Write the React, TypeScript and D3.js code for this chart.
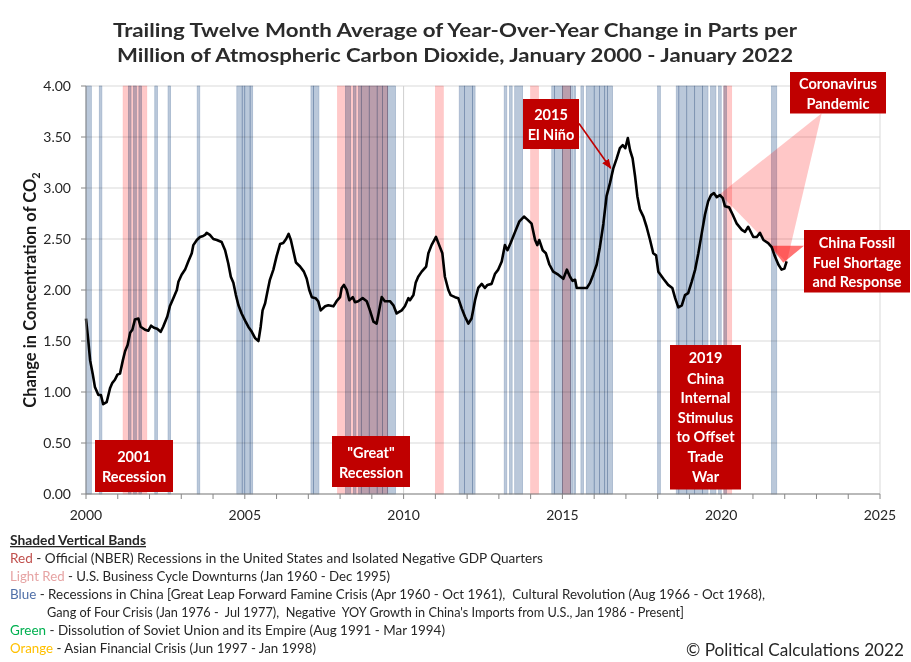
import * as d3 from 'd3'

// [year offset from 2000, ppm change]
const co2Series: [number, number][] = [
  [0.0, 1.72], [0.07, 1.51], [0.13, 1.31], [0.21, 1.18], [0.28, 1.05], [0.39, 0.97], [0.47, 0.97], [0.54, 0.88],
  [0.65, 0.9], [0.76, 1.04], [0.83, 1.09], [0.91, 1.12], [0.99, 1.17], [1.07, 1.18], [1.16, 1.31], [1.23, 1.4],
  [1.31, 1.46], [1.39, 1.58], [1.46, 1.61], [1.54, 1.71], [1.65, 1.72], [1.72, 1.64], [1.86, 1.61], [1.96, 1.6],
  [2.05, 1.65], [2.14, 1.63], [2.24, 1.62], [2.35, 1.59], [2.43, 1.64], [2.56, 1.74], [2.64, 1.84], [2.75, 1.92],
  [2.86, 2.0], [2.91, 2.08], [3.01, 2.15], [3.12, 2.2], [3.22, 2.28], [3.33, 2.36], [3.38, 2.44], [3.49, 2.49],
  [3.59, 2.52], [3.69, 2.53], [3.75, 2.54], [3.8, 2.56], [3.9, 2.54], [4.01, 2.5], [4.12, 2.49], [4.27, 2.47],
  [4.38, 2.39], [4.48, 2.26], [4.56, 2.13], [4.64, 2.07], [4.72, 1.95], [4.8, 1.85], [4.9, 1.77], [5.01, 1.7],
  [5.11, 1.64], [5.22, 1.59], [5.32, 1.53], [5.43, 1.5], [5.5, 1.64], [5.56, 1.8], [5.64, 1.87], [5.71, 1.98],
  [5.79, 2.1], [5.9, 2.2], [6.0, 2.33], [6.11, 2.45], [6.21, 2.46], [6.3, 2.5], [6.38, 2.55], [6.45, 2.49],
  [6.53, 2.38], [6.61, 2.27], [6.74, 2.23], [6.86, 2.18], [6.95, 2.11], [7.03, 2.0], [7.11, 1.93], [7.23, 1.92],
  [7.31, 1.89], [7.39, 1.8], [7.53, 1.84], [7.63, 1.85], [7.79, 1.84], [7.89, 1.89], [8.0, 1.93], [8.05, 2.02],
  [8.12, 2.05], [8.21, 2.0], [8.29, 1.9], [8.4, 1.93], [8.47, 1.88], [8.57, 1.89], [8.71, 1.92], [8.84, 1.89],
  [8.94, 1.8], [9.05, 1.69], [9.15, 1.67], [9.23, 1.8], [9.31, 1.93], [9.41, 1.89], [9.57, 1.89], [9.68, 1.85],
  [9.78, 1.77], [9.94, 1.8], [10.04, 1.84], [10.15, 1.92], [10.2, 1.9], [10.31, 1.95], [10.38, 2.07], [10.46, 2.13],
  [10.57, 2.18], [10.71, 2.23], [10.78, 2.36], [10.88, 2.44], [11.02, 2.52], [11.12, 2.44], [11.22, 2.36], [11.3, 2.13],
  [11.41, 2.0], [11.48, 1.95], [11.62, 1.93], [11.72, 1.92], [11.83, 1.82], [11.93, 1.74], [12.04, 1.67], [12.14, 1.72],
  [12.25, 1.9], [12.35, 2.02], [12.46, 2.06], [12.56, 2.02], [12.64, 2.05], [12.77, 2.06], [12.88, 2.16], [12.98, 2.2],
  [13.09, 2.28], [13.19, 2.44], [13.27, 2.39], [13.37, 2.46], [13.51, 2.57], [13.64, 2.67], [13.79, 2.72], [13.9, 2.69],
  [14.03, 2.65], [14.14, 2.49], [14.21, 2.44], [14.27, 2.49], [14.38, 2.39], [14.48, 2.36], [14.59, 2.25], [14.71, 2.18],
  [14.87, 2.15], [15.03, 2.11], [15.14, 2.2], [15.24, 2.13], [15.32, 2.09], [15.4, 2.1], [15.45, 2.02], [15.61, 2.02],
  [15.77, 2.02], [15.87, 2.07], [15.97, 2.15], [16.08, 2.25], [16.18, 2.42], [16.29, 2.65], [16.39, 2.92], [16.5, 3.05],
  [16.6, 3.19], [16.71, 3.29], [16.81, 3.39], [16.9, 3.42], [16.98, 3.39], [17.06, 3.49], [17.13, 3.37], [17.21, 3.29],
  [17.29, 3.11], [17.36, 2.92], [17.44, 2.79], [17.55, 2.72], [17.65, 2.62], [17.76, 2.49], [17.86, 2.36], [17.95, 2.34],
  [18.02, 2.18], [18.18, 2.11], [18.33, 2.05], [18.46, 2.02], [18.55, 1.92], [18.65, 1.83], [18.76, 1.85], [18.86, 1.95],
  [18.96, 1.97], [19.07, 2.08], [19.18, 2.2], [19.28, 2.36], [19.39, 2.56], [19.49, 2.74], [19.59, 2.87], [19.68, 2.93],
  [19.77, 2.95], [19.86, 2.91], [19.96, 2.93], [20.05, 2.9], [20.12, 2.82], [20.25, 2.81], [20.36, 2.74], [20.49, 2.65],
  [20.65, 2.59], [20.75, 2.57], [20.85, 2.62], [21.01, 2.52], [21.12, 2.52], [21.22, 2.56], [21.33, 2.49], [21.48, 2.46],
  [21.59, 2.42], [21.69, 2.33], [21.8, 2.25], [21.9, 2.2], [21.99, 2.21], [22.06, 2.28],
]

// shaded bands as [start month, end month) counted from Jan 2000
const chinaBands: [number, number][] = [
  [0, 2], [5, 6], [16, 17], [18, 19], [20, 21], [26, 27], [31, 32], [42, 43],
  [57, 59], [59, 60], [60, 62], [62, 63],
  [85, 86], [86, 88],
  [98, 100], [101, 102], [103, 104], [104, 107], [107, 110], [110, 112], [112, 114], [114, 117],
  [141, 143], [143, 146], [146, 147],
  [158, 159], [160, 161], [162, 165],
  [176, 177], [177, 180], [180, 183], [183, 184], [184.4, 185], [187, 188],
  [189, 192], [192, 194], [194, 196], [196, 197], [197, 199],
  [216, 217],
  [223, 224], [224, 227], [227, 230], [230, 233], [233, 235],
  [236, 238], [239, 240], [241, 242],
  [259, 261],
]
const usRecessionBands: [number, number][] = [
  [14, 23], [95, 114], [132, 135], [168, 171], [180, 183], [241, 244],
]

const yTicks = [0, 0.5, 1, 1.5, 2, 2.5, 3, 3.5, 4]
const xTicks = [2000, 2005, 2010, 2015, 2020, 2025]
const xMinorTicks = d3.range(2000, 2026)

const titleLines = [
  'Trailing Twelve Month Average of Year-Over-Year Change in Parts per',
  'Million of Atmospheric Carbon Dioxide, January 2000 - January 2022',
]

const legendRows: {color: string; label: string; text: string; indent?: boolean}[] = [
  {color: '#c0504d', label: 'Red', text: ' - Official (NBER) Recessions in the United States and Isolated Negative GDP Quarters'},
  {color: '#e6a3a3', label: 'Light Red', text: ' - U.S. Business Cycle Downturns (Jan 1960 - Dec 1995)'},
  {color: '#4f6fa8', label: 'Blue', text: ' - Recessions in China [Great Leap Forward Famine Crisis (Apr 1960 - Oct 1961),  Cultural Revolution (Aug 1966 - Oct 1968),'},
  {color: '#262626', label: '', text: "Gang of Four Crisis (Jan 1976 -  Jul 1977),  Negative  YOY Growth in China's Imports from U.S., Jan 1986 - Present]", indent: true},
  {color: '#00b050', label: 'Green', text: ' - Dissolution of Soviet Union and its Empire (Aug 1991 - Mar 1994)'},
  {color: '#ffc000', label: 'Orange', text: ' - Asian Financial Crisis (Jun 1997 - Jan 1998)'},
]
const legendWidths = [533, 380, 755, 674, 435, 306]

const font = 'Lato, "Open Sans", sans-serif'
const boxRed = '#c00000'

function Box({x0, y0, x1, y1, lines, baselines}: {x0: number; y0: number; x1: number; y1: number; lines: string[]; baselines: number[]}) {
  return (
    <g>
      <rect x={x0} y={y0} width={x1 - x0} height={y1 - y0} fill={boxRed} />
      {lines.map((l, i) => (
        <text key={i} x={(x0 + x1) / 2} y={baselines[i]} textAnchor="middle" fill="#fff" fontWeight="bold" fontSize={14.5} fontFamily={font}>
          {l}
        </text>
      ))}
    </g>
  )
}

export default function App() {
  const x = d3.scaleLinear().domain([2000, 2025]).range([86, 880])
  const y = d3.scaleLinear().domain([0, 4]).range([494, 86])
  const mx = (m: number) => x(2000 + m / 12)
  const line = d3
    .line<[number, number]>()
    .x(d => x(2000 + d[0]))
    .y(d => y(d[1]))

  return (
    <svg width={911} height={662} style={{position: 'absolute', left: 0, top: 0, background: '#fff'}} fontFamily={font}>
      <defs>
        <marker id="arrowHead" markerUnits="userSpaceOnUse" markerWidth={10} markerHeight={8} viewBox="0 0 10 8" refX={9} refY={4} orient="auto">
          <path d="M0,0 L10,4 L0,8 z" fill={boxRed} />
        </marker>
      </defs>
      <rect width={911} height={662} fill="#fff" />

      {titleLines.map((t, i) => (
        <text key={i} x={455} y={37 + i * 25} textAnchor="middle" fontSize={19.5} fontWeight="bold" fill="#2b2b2b" textLength={i === 0 ? 684 : 676} lengthAdjust="spacingAndGlyphs">
          {t}
        </text>
      ))}

      {/* gridlines */}
      {yTicks.map(t => (
        <line key={t} x1={x(2000)} x2={x(2025)} y1={y(t)} y2={y(t)} stroke="#d9d9d9" />
      ))}
      <line x1={x(2025)} x2={x(2025)} y1={y(4)} y2={y(0)} stroke="#d9d9d9" />
      <line x1={mx(120)} x2={mx(120)} y1={y(4)} y2={y(0)} stroke="#cfcfcf" />

      {/* bands */}
      <g style={{mixBlendMode: 'multiply'}}>
        {usRecessionBands.map(([a, b], i) => (
          <rect key={'r' + i} x={mx(a)} width={mx(b) - mx(a)} y={y(4)} height={y(0) - y(4)} fill="#ffc9c9" stroke="#ffb8b8" strokeWidth={0.5} style={{mixBlendMode: 'multiply'}} />
        ))}
        {chinaBands.map(([a, b], i) => (
          <rect key={'b' + i} x={mx(a)} width={mx(b) - mx(a)} y={y(4)} height={y(0) - y(4)} fill="#bac8da" stroke="#98acc6" strokeWidth={0.6} style={{mixBlendMode: 'multiply'}} />
        ))}
      </g>

      {/* callout wedges */}
      <polygon points="821.7,113.3 720,194 786.7,262.5" fill="#ff0000" fillOpacity={0.22} />
      <polygon points="804,245.7 770,245.7 783.3,262.7" fill="#ff0000" fillOpacity={0.55} />

      <path d={line(co2Series) ?? ''} fill="none" stroke="#000" strokeWidth={2.6} strokeLinejoin="round" />

      {/* axes */}
      <line x1={x(2000)} x2={x(2000)} y1={y(4)} y2={y(0)} stroke="#868686" />
      <line x1={x(2000)} x2={x(2025)} y1={y(0)} y2={y(0)} stroke="#868686" />
      {yTicks.map(t => (
        <g key={t}>
          <line x1={x(2000) - 5} x2={x(2000)} y1={y(t)} y2={y(t)} stroke="#868686" />
          <text x={71} y={y(t) + 5} textAnchor="end" fontSize={14} fill="#262626">
            {d3.format('.2f')(t)}
          </text>
        </g>
      ))}
      {xMinorTicks.map(t => (
        <line key={t} x1={x(t)} x2={x(t)} y1={y(0)} y2={y(0) + 5} stroke="#868686" />
      ))}
      {xTicks.map(t => (
        <text key={t} x={x(t)} y={520} textAnchor="middle" fontSize={14} fill="#262626">
          {t}
        </text>
      ))}
      <text transform="translate(36,290) rotate(-90)" textAnchor="middle" fontSize={16.5} fontWeight="bold" fill="#1a1a1a">
        Change in Concentration of CO
        <tspan fontSize={11} dy={4}>2</tspan>
      </text>

      {/* annotations */}
      <Box x0={95} y0={440} x1={173} y1={492} lines={['2001', 'Recession']} baselines={[462, 482]} />
      <Box x0={332} y0={436} x1={410} y1={487} lines={['"Great"', 'Recession']} baselines={[458, 478]} />
      <Box x0={523} y0={99} x1={579} y1={149} lines={['2015', 'El Niño']} baselines={[120, 140]} />
      <line x1={579} y1={123.5} x2={610.7} y2={168.3} stroke={boxRed} strokeWidth={1.6} markerEnd="url(#arrowHead)" />
      <Box x0={790} y0={72} x1={886} y1={113.5} lines={['Coronavirus', 'Pandemic']} baselines={[89, 109]} />
      <Box x0={804} y0={230} x1={910} y1={292.5} lines={['China Fossil', 'Fuel Shortage', 'and Response']} baselines={[248, 268, 287]} />
      <Box
        x0={670}
        y0={345}
        x1={741}
        y1={489.5}
        lines={['2019', 'China', 'Internal', 'Stimulus', 'to Offset', 'Trade', 'War']}
        baselines={[363, 384, 403, 423, 442, 462, 482]}
      />

      {/* legend */}
      <text x={10} y={545} fontSize={13} fontWeight="bold" fill="#262626" textDecoration="underline" textLength={136} lengthAdjust="spacingAndGlyphs">
        Shaded Vertical Bands
      </text>
      {legendRows.map((r, i) => (
        <text key={i} x={r.indent ? 47 : 10} y={563 + i * 18} fontSize={13} fill="#262626" textLength={legendWidths[i] - (r.indent ? 37 : 0)} lengthAdjust="spacingAndGlyphs" xmlSpace="preserve">
          {r.label && <tspan fill={r.color}>{r.label}</tspan>}
          <tspan>{r.text}</tspan>
        </text>
      ))}
      <text x={686} y={656} fontSize={17} fill="#262626" textLength={218} lengthAdjust="spacingAndGlyphs">
        © Political Calculations 2022
      </text>
    </svg>
  )
}
